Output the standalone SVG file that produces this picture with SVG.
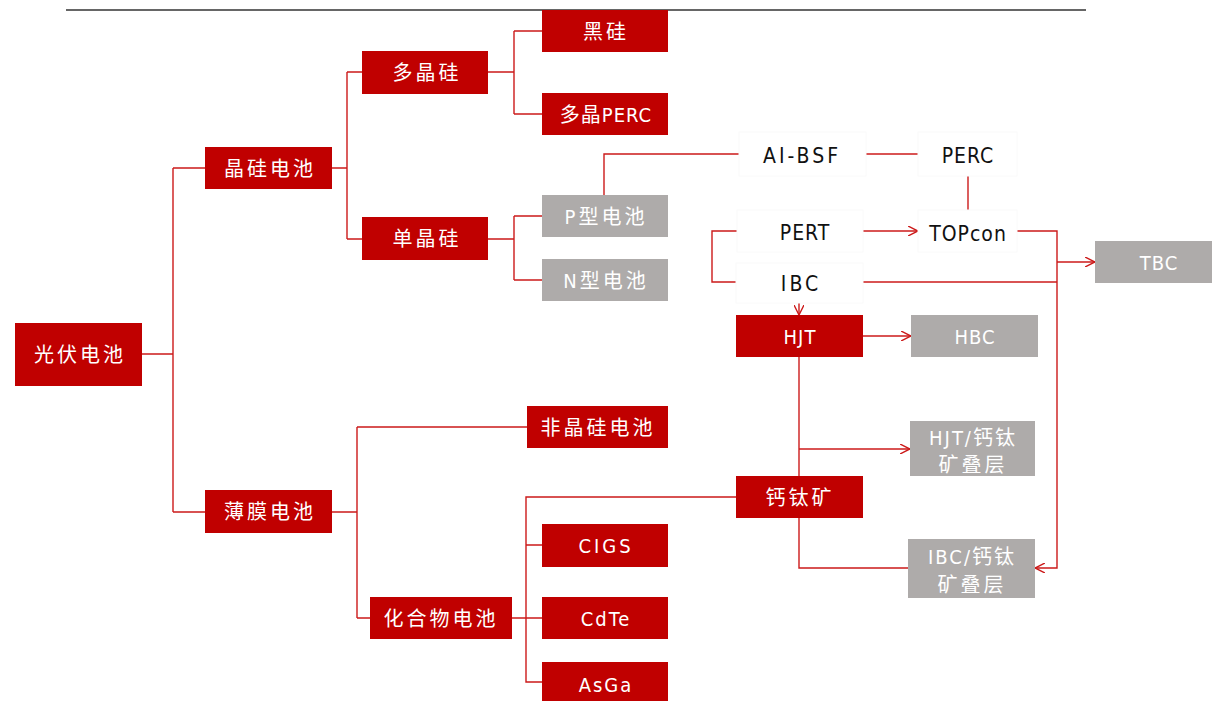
<svg xmlns="http://www.w3.org/2000/svg" width="1212" height="701" viewBox="0 0 1212 701">
<style>
.r{fill:#C00000}
.g{fill:#AEABAA}
.w{fill:#FFFFFF;stroke:#FAFAFA;stroke-width:1}
text{font-family:"DejaVu Sans Condensed","DejaVu Sans","Noto Sans CJK SC",sans-serif;font-size:20px;text-anchor:middle;dominant-baseline:central;letter-spacing:3px}
.wt{fill:#FFFFFF}
.bt{fill:#111111;letter-spacing:1px;font-size:21px}
.c{fill:none;stroke:#CC1A1A;stroke-width:1.4}
</style>
<defs>
<marker id="arr" viewBox="0 0 10 10" refX="10" refY="5" markerWidth="10" markerHeight="10" markerUnits="userSpaceOnUse" orient="auto">
<path d="M0,0 L10,5 L0,10" fill="none" stroke="#CC1A1A" stroke-width="1.4"/>
</marker>
</defs>
<line x1="66" y1="10" x2="1086" y2="10" stroke="#333333" stroke-width="1.5"/>
<g id="connectors">
<path class="c" d="M142,354 H173 M173,168 V512 M173,168 H205 M173,512 H205"/>
<path class="c" d="M332,168 H347 M347,72 V239 M347,72 H362 M347,239 H362"/>
<path class="c" d="M488,72 H514 M514,31 V114 M514,31 H542 M514,114 H542"/>
<path class="c" d="M488,239 H514 M514,216 V280 M514,216 H542 M514,280 H542"/>
<path class="c" d="M604,195 V154 H739"/>
<path class="c" d="M866,154 H918"/>
<path class="c" d="M968,176 V210"/>
<path class="c" d="M863,231 H918" marker-end="url(#arr)"/>
<path class="c" d="M737,231 H712 V282 H736"/>
<path class="c" d="M863,282 H1057"/>
<path class="c" d="M1017,231 H1057 V568 H1035" marker-end="url(#arr)"/>
<path class="c" d="M1057,262 H1095" marker-end="url(#arr)"/>
<path class="c" d="M799,303 V315" marker-end="url(#arr)"/>
<path class="c" d="M863,336 H911" marker-end="url(#arr)"/>
<path class="c" d="M799,357 V476"/>
<path class="c" d="M799,449 H910" marker-end="url(#arr)"/>
<path class="c" d="M799,518 V568 H908"/>
<path class="c" d="M736,497 H526 V682 H542 M526,545 H542 M512,618 H542"/>
<path class="c" d="M332,512 H357 M357,427 V618 M357,427 H527 M357,618 H370"/>
</g>
<g id="n-guangfu"><rect class="r" x="15" y="323" width="127" height="63"/><text class="wt" x="80" y="355">光伏电池</text></g>
<g id="n-jinggui"><rect class="r" x="205" y="147" width="127" height="42"/><text class="wt" x="270" y="169">晶硅电池</text></g>
<g id="n-bomo"><rect class="r" x="205" y="490" width="127" height="43"/><text class="wt" x="270" y="512">薄膜电池</text></g>
<g id="n-duojinggui"><rect class="r" x="362" y="51" width="126" height="43"/><text class="wt" x="427" y="73">多晶硅</text></g>
<g id="n-danjinggui"><rect class="r" x="362" y="217" width="126" height="43"/><text class="wt" x="427" y="239">单晶硅</text></g>
<g id="n-heigui"><rect class="r" x="542" y="10" width="126" height="42"/><text class="wt" x="606" y="32">黑硅</text></g>
<g id="n-duojingperc"><rect class="r" x="542" y="93" width="126" height="42"/><text class="wt" x="606" y="115" style="letter-spacing:1px">多晶PERC</text></g>
<g id="n-pxing"><rect class="g" x="542" y="195" width="126" height="42"/><text class="wt" x="606" y="217">P型电池</text></g>
<g id="n-nxing"><rect class="g" x="542" y="259" width="126" height="42"/><text class="wt" x="606" y="281">N型电池</text></g>
<g id="n-feijinggui"><rect class="r" x="527" y="406" width="141" height="42"/><text class="wt" x="598" y="428">非晶硅电池</text></g>
<g id="n-huahewu"><rect class="r" x="370" y="597" width="142" height="42"/><text class="wt" x="441" y="619">化合物电池</text></g>
<g id="n-cigs"><rect class="r" x="542" y="524" width="126" height="43"/><text class="wt" x="606" y="546">CIGS</text></g>
<g id="n-cdte"><rect class="r" x="542" y="597" width="126" height="42"/><text class="wt" x="606" y="619" style="letter-spacing:2px">CdTe</text></g>
<g id="n-asga"><rect class="r" x="542" y="662" width="126" height="42"/><text class="wt" x="606" y="685" style="letter-spacing:2px">AsGa</text></g>
<g id="n-gaitaikuang"><rect class="r" x="736" y="476" width="127" height="42"/><text class="wt" x="800" y="498">钙钛矿</text></g>
<g id="n-hjt"><rect class="r" x="736" y="315" width="127" height="42"/><text class="wt" x="800" y="337" style="letter-spacing:1px">HJT</text></g>
<g id="n-hbc"><rect class="g" x="911" y="315" width="127" height="42"/><text class="wt" x="975" y="337" style="letter-spacing:1px">HBC</text></g>
<g id="n-hjtstack"><rect class="g" x="910" y="421" width="125" height="55"/><text class="wt" x="973" y="438" style="letter-spacing:2px">HJT/钙钛</text><text class="wt" x="973" y="465">矿叠层</text></g>
<g id="n-ibcstack"><rect class="g" x="908" y="539" width="127" height="59"/><text class="wt" x="972" y="557" style="letter-spacing:2px">IBC/钙钛</text><text class="wt" x="972" y="585">矿叠层</text></g>
<g id="n-tbc"><rect class="g" x="1095" y="241" width="117" height="42"/><text class="wt" x="1159" y="263" style="letter-spacing:1px">TBC</text></g>
<g id="n-albsf"><rect class="w" x="739" y="132" width="127" height="44"/><text class="bt" x="802" y="156" style="letter-spacing:3px">AI-BSF</text></g>
<g id="n-perc"><rect class="w" x="918" y="132" width="99" height="44"/><text class="bt" x="968" y="156">PERC</text></g>
<g id="n-pert"><rect class="w" x="737" y="210" width="126" height="42"/><text class="bt" x="805" y="233">PERT</text></g>
<g id="n-topcon"><rect class="w" x="918" y="210" width="99" height="42"/><text class="bt" x="968" y="234">TOPcon</text></g>
<g id="n-ibc"><rect class="w" x="736" y="263" width="127" height="40"/><text class="bt" x="801" y="284" style="letter-spacing:3px">IBC</text></g>
</svg>
